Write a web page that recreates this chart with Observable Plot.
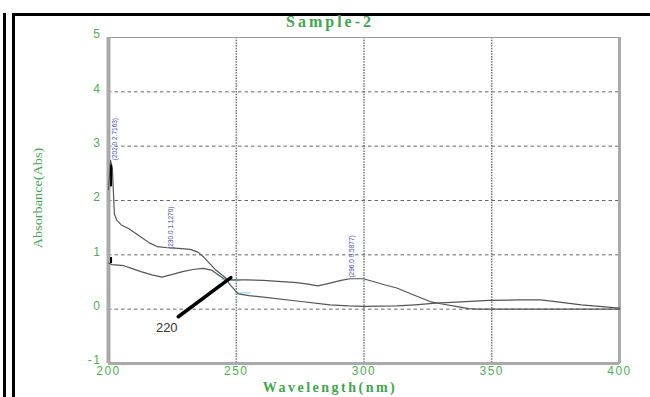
<!DOCTYPE html>
<html>
<head>
<meta charset="utf-8">
<script src="https://cdn.jsdelivr.net/npm/d3@7"></script>
<script src="https://cdn.jsdelivr.net/npm/@observablehq/plot@0.6"></script>
<style>
  html, body { margin: 0; padding: 0; background: #fff; }
  #wrap { position: relative; width: 650px; height: 397px; overflow: hidden; }
  #chart svg { display: block; }
  .ov { position: absolute; white-space: nowrap; }
  #title { left: 0; width: 660px; top: 13px; text-align: center; font: bold 16px "Liberation Serif", serif; color: #3fa64c; letter-spacing: 3px; }
  #xlab { left: 0; width: 660px; top: 380px; text-align: center; font: bold 14px "Liberation Serif", serif; color: #3fa64c; letter-spacing: 2.5px; line-height: 15px; }
  #ylab { left: 38px; top: 198px; font: 15px "Liberation Serif", serif; color: #3fa64c; transform: translate(-50%, -50%) rotate(-90deg) scale(0.95, 0.85); }
  #chart g[aria-label*="tick label"] text, #chart g[aria-label$="axis"] text { letter-spacing: 1.5px; }
</style>
</head>
<body>
<div id="wrap">
  <div id="chart"></div>
  <div class="ov" style="left:3px; top:13px; width:2.5px; height:390px; background:#000;"></div>
  <div class="ov" style="left:12px; top:13px; width:2.5px; height:390px; background:#000;"></div>
  <div class="ov" style="left:12px; top:13px; width:640px; height:2.5px; background:#000;"></div>
  <div class="ov" id="title">Sample-2</div>
  <div class="ov" id="xlab">Wavelength(nm)</div>
  <div class="ov" id="ylab">Absorbance(Abs)</div>
</div>
<script>
// ---- data ----
const xTicks = [200, 250, 300, 350, 400];
const yTicks = [-1, 0, 1, 2, 3, 4, 5];
const xGrid = [250, 300, 350];
const yGrid = [0, 1, 2, 3, 4];

// spectrum 1 (high at 200 nm)
const spec1Wave = [200, 200.8, 201.5, 202.3, 203.2, 205, 208, 212.7, 216, 219.2, 223, 227.3, 232, 235, 237, 240, 242, 246, 247.5, 250.8, 255, 260.6, 273.7, 286.7, 294, 300, 312.8, 320, 328, 336, 349, 360, 369, 375, 385, 392, 400];
const spec1Abs  = [2.2, 2.74, 2.6, 1.75, 1.64, 1.55, 1.48, 1.33, 1.22, 1.15, 1.13, 1.12, 1.1, 1.05, 0.97, 0.82, 0.72, 0.57, 0.45, 0.28, 0.25, 0.22, 0.15, 0.08, 0.06, 0.05, 0.06, 0.08, 0.11, 0.13, 0.16, 0.17, 0.17, 0.14, 0.08, 0.05, 0.02];

// spectrum 2 (peak near 296 nm)
const spec2Wave = [200, 201.4, 206, 209, 212.7, 217, 220.9, 225, 229, 233, 237, 240.3, 243, 245.2, 248, 253.5, 260.5, 273.7, 278, 282, 286.7, 291, 294.6, 299.7, 303.6, 308, 312.8, 319, 325.8, 330, 336, 341, 345, 400];
const spec2Abs  = [0.85, 0.82, 0.8, 0.75, 0.69, 0.63, 0.59, 0.64, 0.69, 0.73, 0.75, 0.72, 0.63, 0.56, 0.54, 0.54, 0.53, 0.49, 0.46, 0.43, 0.48, 0.53, 0.56, 0.56, 0.51, 0.45, 0.39, 0.27, 0.14, 0.1, 0.05, 0.01, 0.0, 0.0];

// peak labels
const peakText = ["(202.0 2.7163)", "(230.0 1.1270)", "(296.0 0.5877)"];
const peakWave = [202.6, 224.6, 295.2];
const peakAbs  = [3.13, 1.5, 0.97];

// cursor marks
const cursorWave = [201, 201];
const cursorFrom = [2.65, 0.95];
const cursorTo   = [2.25, 0.84];

// cyan highlight segments
const cyanSegs = [
  [[244.4, 0.55], [251.5, 0.52]],
  [[249.6, 0.30], [255.4, 0.30]]
];

// "220" annotation pointer
const pointerWave = [227.3, 247.9];
const pointerAbs  = [-0.14, 0.58];
const noteText = "220";
const noteWave = 222.8;
const noteAbs = -0.34;

const s1 = spec1Wave.map((w, i) => ({w, a: spec1Abs[i]}));
const s2 = spec2Wave.map((w, i) => ({w, a: spec2Abs[i]}));
const peaks = peakText.map((t, i) => ({t, w: peakWave[i], a: peakAbs[i]}));
const cursors = cursorWave.map((w, i) => ({w, a1: cursorFrom[i], a2: cursorTo[i]}));
const pointer = pointerWave.map((w, i) => ({w, a: pointerAbs[i]}));
const cyan = cyanSegs.flatMap((seg, k) => seg.map(([w, a]) => ({w, a, k})));

const green = "#4caf50";
const fmt = d => String(d);

const chart = Plot.plot({
  width: 650,
  height: 397,
  marginLeft: 108,
  marginRight: 31,
  marginTop: 37,
  marginBottom: 34,
  style: {fontFamily: "Liberation Sans, Arial, sans-serif", fontSize: "12px", background: "transparent"},
  x: {domain: [200, 400], label: null},
  y: {domain: [-1, 5], label: null},
  marks: [
    Plot.ruleY(yGrid, {stroke: "#666", strokeDasharray: "3.5,3", strokeWidth: 1}),
    Plot.ruleX(xGrid, {stroke: "#555", strokeDasharray: "1.5,1.2", strokeWidth: 1.2}),
    Plot.frame({stroke: "#999", strokeWidth: 1}),
    Plot.ruleX([200], {stroke: "#aaa", strokeWidth: 4}),
    Plot.ruleX([400], {stroke: "#aaa", strokeWidth: 3}),
    Plot.ruleY([-1], {stroke: "#aaa", strokeWidth: 3}),
    Plot.line(cyan, {x: "w", y: "a", z: "k", stroke: "#8fd8ee", strokeWidth: 1.2}),
    Plot.line(s1, {x: "w", y: "a", stroke: "#555", strokeWidth: 1.2}),
    Plot.line(s2, {x: "w", y: "a", stroke: "#555", strokeWidth: 1.2}),
    Plot.ruleX(cursors, {x: "w", y1: "a1", y2: "a2", stroke: "#000", strokeWidth: 2}),
    Plot.line(pointer, {x: "w", y: "a", stroke: "#000", strokeWidth: 3.5}),
    Plot.text([noteText], {x: noteWave, y: noteAbs, text: d => d, fill: "#333", fontSize: 13, fontFamily: "Liberation Sans, Arial, sans-serif"}),
    Plot.text(peaks, {x: "w", y: "a", text: "t", rotate: -90, fill: "#4040c0", fontSize: 6.5, fontFamily: "Liberation Sans Narrow, Liberation Sans, sans-serif"}),
    Plot.axisX({ticks: xTicks, tickFormat: fmt, tickSize: 0, tickPadding: 3, fill: green, fontSize: 12, label: null}),
    Plot.axisY({ticks: yTicks, tickFormat: fmt, tickSize: 0, tickPadding: 7, dy: -3, fill: green, fontSize: 12, label: null})
  ]
});
document.getElementById("chart").appendChild(chart);
</script>
</body>
</html>
